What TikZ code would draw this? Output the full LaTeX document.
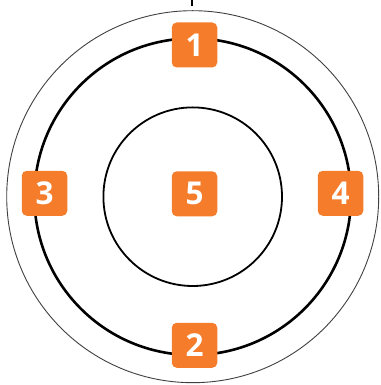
\documentclass[tikz,border=0pt]{standalone}
\usepackage{fontspec}
\setmainfont{Open Sans}
\definecolor{boxorange}{HTML}{F47C2B}
\begin{document}
\begin{tikzpicture}[x=1pt,y=1pt,
  numbox/.style={fill=boxorange, rounded corners=5pt, minimum width=45.5pt, minimum height=45pt, inner sep=0pt, text=white, font=\fontsize{31.5}{31.5}\selectfont\bfseries}]
\useasboundingbox (0,0) rectangle (380,385);
\coordinate (c) at (192.7,188.3);
\draw[line width=0.9pt, black!75] (c) circle[radius=186];
\draw[line width=2.6pt] (c) circle[radius=158.3];
\draw[line width=1.8pt] (c) circle[radius=89.3];
\coordinate (t1) at (192.3,385);
\coordinate (t2) at (192.3,379);
\draw[line width=2pt] (t1) -- (t2);
\node[numbox] (n1) at (194.5,340) {1};
\node[numbox] (n2) at (194.5,39.7) {2};
\node[numbox] (n3) at (44.5,191.7) {3};
\node[numbox] (n4) at (340.5,191.7) {4};
\node[numbox] (n5) at (194.5,191.2) {5};
\end{tikzpicture}
\end{document}
